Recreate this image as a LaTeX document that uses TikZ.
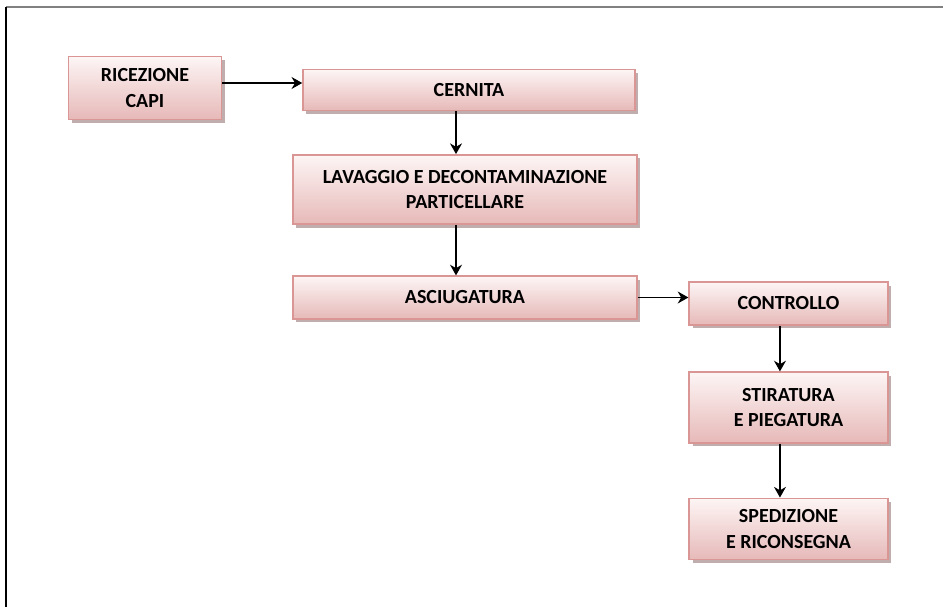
\documentclass[tikz,border=0pt]{standalone}
\usepackage{fontspec}
\setmainfont{Carlito}
\usetikzlibrary{arrows.meta,shadows}
\definecolor{boxtop}{HTML}{FDF5F5}
\definecolor{boxbot}{HTML}{E6B9B8}
\definecolor{boxline}{HTML}{DA9694}
\definecolor{boxshadow}{HTML}{B09898}
\tikzset{
  fase/.style={draw=boxline,line width=1.2pt,top color=boxtop,bottom color=boxbot,
    align=center,font=\bfseries\fontsize{15}{19}\selectfont,inner sep=0pt,
    drop shadow={shadow xshift=2.5pt,shadow yshift=-2.5pt,fill=boxshadow,opacity=0.8}},
  freccia/.style={-{Stealth[length=8pt,width=9pt]},line width=0.8pt}
}
\begin{document}
\begin{tikzpicture}[x=0.75pt,y=-0.75pt]
  \useasboundingbox (0,0) rectangle (943,607);
  % cornice
  \draw[gray,line width=1.5pt] (6,7) -- (943,7);
  \draw[black,line width=0.8pt] (6,7) -- (6,607);
  % fasi
  \node[fase,minimum width=115pt,minimum height=47pt] (ric) at (145,88) {RICEZIONE\\CAPI};
  \node[fase,minimum width=249pt,minimum height=31pt] (cern) at (469,90) {CERNITA};
  \node[fase,minimum width=258pt,minimum height=52pt] (lav) at (465,189.5) {LAVAGGIO E DECONTAMINAZIONE\\PARTICELLARE};
  \node[fase,minimum width=258pt,minimum height=32pt] (asc) at (465,297.5) {ASCIUGATURA};
  \node[fase,minimum width=149pt,minimum height=32pt] (con) at (788.5,303.5) {CONTROLLO};
  \node[fase,minimum width=149pt,minimum height=53pt] (sti) at (788.5,407.5) {STIRATURA\\E PIEGATURA};
  \node[fase,minimum width=149pt,minimum height=46pt] (spe) at (788.5,529) {SPEDIZIONE\\E RICONSEGNA};
  % collegamenti
  \draw[freccia] ([yshift=3.75pt]ric.east) -- ([yshift=3.75pt]ric.east -| cern.west);
  \draw[freccia] ([xshift=-9.75pt]cern.south) -- ([xshift=-6.75pt]lav.north);
  \draw[freccia] ([xshift=-6.75pt]lav.south) -- ([xshift=-6.75pt]asc.north);
  \draw[freccia] (asc.east) -- (asc.east -| con.west);
  \draw[freccia] ([xshift=-6.4pt]con.south) -- ([xshift=-6.4pt]sti.north);
  \draw[freccia] ([xshift=-6.4pt]sti.south) -- ([xshift=-6.4pt]spe.north);
\end{tikzpicture}
\end{document}
